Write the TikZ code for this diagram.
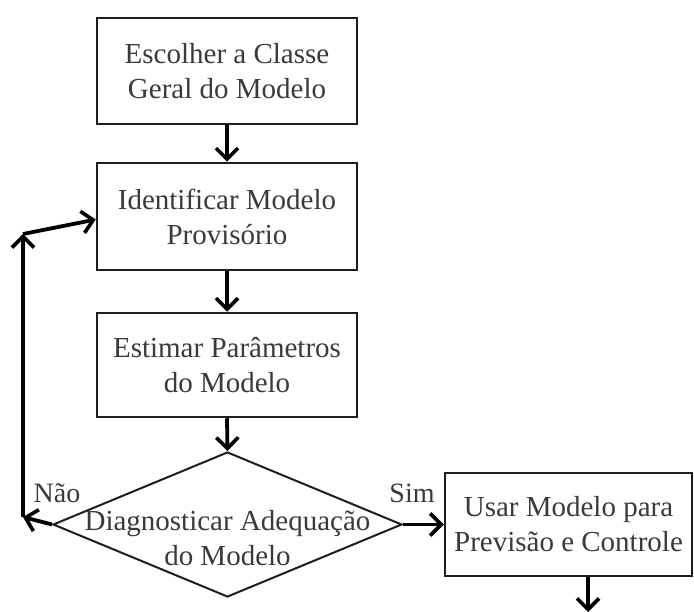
\documentclass[tikz,border=0pt]{standalone}
\usepackage{fontspec}
\setmainfont{Liberation Serif}
\usetikzlibrary{arrows.meta,shapes.geometric}
\definecolor{txt}{HTML}{3A3A3A}
\definecolor{edge}{HTML}{1E1E1E}
\begin{document}
\begin{tikzpicture}[x=1pt,y=-1pt,
  stepbox/.style={draw=edge,line width=2.5pt,rectangle,inner sep=0pt,align=center,
    text=txt,font=\fontsize{29}{35}\selectfont},
  decisionshape/.style={draw=edge,line width=2pt,diamond,inner sep=0pt,
    minimum width=349pt,minimum height=145pt},
  lbl/.style={text=txt,font=\fontsize{28}{33}\selectfont,inner sep=0pt,align=center},
  flow/.style={draw=black,line width=3.8pt,-{Straight Barb[length=11pt,width=22pt,line width=3.6pt]}}
]
\useasboundingbox (0,0) rectangle (694,612);
\fill[white] (0,0) rectangle (694,612);

\node[stepbox,minimum width=260pt,minimum height=106pt] (b1) at (227,71)
  {Escolher a Classe\\Geral do Modelo};
\node[stepbox,minimum width=260pt,minimum height=107pt] (b2) at (227,216.5)
  {Identificar Modelo\\Provisório};
\node[stepbox,minimum width=260pt,minimum height=104pt] (b3) at (227,365)
  {Estimar Parâmetros\\do Modelo};
\node[decisionshape] (d) at (227.5,524.5) {};
\node[lbl,font=\fontsize{29}{35}\selectfont] (dt) at (227.5,538) {Diagnosticar Adequação\\do Modelo};
\node[stepbox,minimum width=247pt,minimum height=103pt] (u) at (568.5,524.5)
  {Usar Modelo para\\Previsão e Controle};

\node[lbl] (nao) at (57,493) {Não};
\node[lbl] (sim) at (412,493) {Sim};

\coordinate (c1) at (23,517);
\coordinate (c2) at (23,234);
\coordinate (out) at (588,612);

\draw[flow] (b1.south) -- (b2.north);
\draw[flow] (b2.south) -- (b3.north);
\draw[flow] (b3.south) -- (d.north);
\draw[flow] (d.east) -- (u.west);
\draw[flow] (u.south -| out) -- (out);
\draw[flow] (d.west) -- (c1);
\draw[flow] (c1) -- (c2);
\draw[flow] (c2) -- ([yshift=-3pt]b2.west);
\end{tikzpicture}
\end{document}
